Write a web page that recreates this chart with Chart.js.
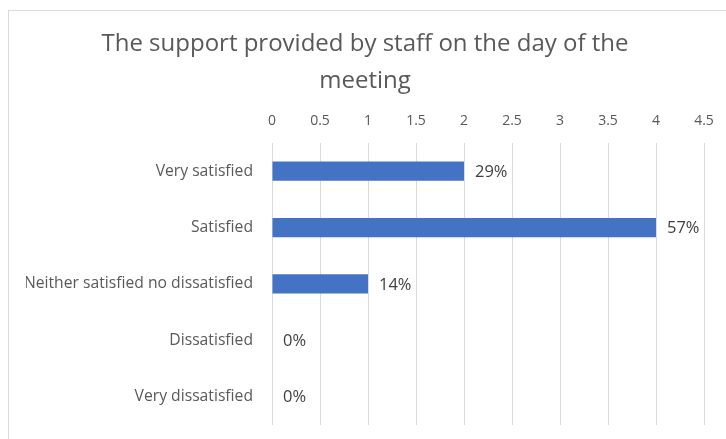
<!doctype html>
<html lang="en">
<head>
<meta charset="UTF-8" />
<script src="https://cdn.jsdelivr.net/npm/chart.js@4"></script>
<style>
  html, body { margin: 0; padding: 0; background: #fff; }
  #wrap { position: relative; width: 726px; height: 439px; overflow: hidden; }
  /* chart frame, only top and left edges fall inside the view */
  #frame { position: absolute; left: 8px; top: 10px; width: 800px; height: 500px; border-top: 1px solid #d9d9d9; border-left: 1px solid #d9d9d9; }
  #chart { position: absolute; left: 0; top: 0; }
</style>
</head>
<body>
<div id="wrap">
  <div id="frame"></div>
  <canvas id="chart" width="726" height="439"></canvas>
</div>
<script>
  const categories = ['Very satisfied', 'Satisfied', 'Neither satisfied no dissatisfied', 'Dissatisfied', 'Very dissatisfied'];
  const responses = [2, 4, 1, 0, 0];
  const xTicks = [0, 0.5, 1, 1.5, 2, 2.5, 3, 3.5, 4, 4.5];

  const total = responses.reduce((a, b) => a + b, 0);
  const FONT = "'Open Sans', sans-serif";

  // percentage of all responses written just past the end of each bar
  const barLabels = {
    id: 'barLabels',
    afterDatasetsDraw(chart) {
      const ctx = chart.ctx;
      const meta = chart.getDatasetMeta(0);
      ctx.save();
      ctx.font = '16.5px ' + FONT;
      ctx.fillStyle = '#404040';
      ctx.textBaseline = 'middle';
      ctx.textAlign = 'left';
      meta.data.forEach((bar, i) => {
        const pct = Math.round(responses[i] / total * 100) + '%';
        ctx.fillText(pct, bar.x + 11, bar.y + 1);
      });
      ctx.restore();
    }
  };

  new Chart(document.getElementById('chart'), {
    type: 'bar',
    data: {
      labels: categories,
      datasets: [{
        data: responses,
        backgroundColor: '#4472c4',
        barPercentage: 1,
        categoryPercentage: 0.34
      }]
    },
    plugins: [barLabels],
    options: {
      indexAxis: 'y',
      responsive: false,
      animation: false,
      layout: { padding: { left: 26, right: 22, top: 0, bottom: 14 } },
      plugins: {
        legend: { display: false },
        tooltip: { enabled: false },
        title: {
          display: true,
          text: ['The support provided by staff on the day of the', 'meeting'],
          color: '#595959',
          font: { family: FONT, size: 24, weight: 'normal', lineHeight: 1.54 },
          padding: { top: 26, bottom: 0 }
        }
      },
      scales: {
        x: {
          position: 'top',
          min: 0,
          max: 4.5,
          afterBuildTicks(scale) { scale.ticks = xTicks.map(v => ({ value: v })); },
          afterFit(scale) {
            scale.height = 43;
            // tick padding is vertical only here, keep it off the sides
            scale.paddingLeft = 0;
            scale.paddingRight = 0;
          },
          ticks: {
            color: '#595959',
            font: { family: FONT, size: 14, lineHeight: 1 },
            padding: 15,
            maxRotation: 0,
            callback: v => String(v)
          },
          grid: { color: '#d9d9d9', drawTicks: false },
          border: { display: false }
        },
        y: {
          afterFit(scale) {
            scale.width = 246;
            scale.paddingTop = 0;
            scale.paddingBottom = 0;
          },
          ticks: { color: '#595959', font: { family: FONT, size: 15.7 }, padding: 19 },
          grid: { display: false, drawTicks: false },
          border: { display: false }
        }
      }
    }
  });
</script>
</body>
</html>
